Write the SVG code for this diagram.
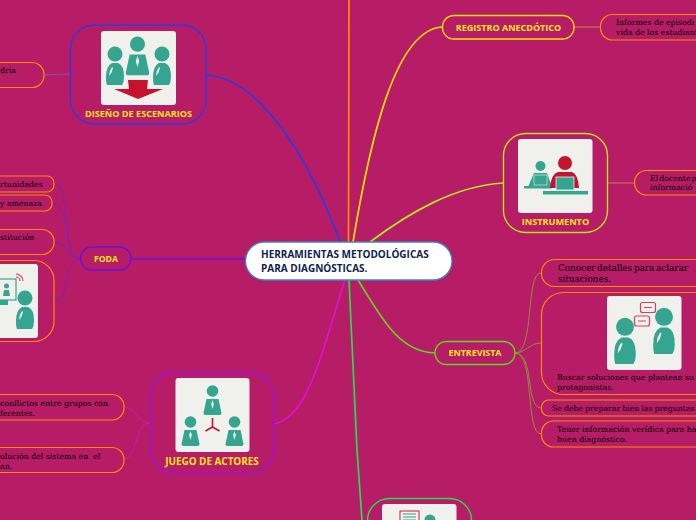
<svg xmlns="http://www.w3.org/2000/svg" width="696" height="520" viewBox="0 0 696 520">
<style>
.n{fill:#b71c66;stroke-width:1.4}
.o{fill:#b71c66;stroke:#ff8c00;stroke-width:1.2}
.t{font:700 9px "Open Sans",sans-serif;fill:#ffe81a;text-anchor:middle}
.b{font:7.800px "DejaVu Serif",serif;fill:#000}
.c{fill:none;stroke-width:1.700}
.s{fill:none;stroke-width:.9}
.img{fill:#f0f0ec}
.tl{fill:#35a58f}
.rd{fill:#c5122f}
.h{font:700 10px "Open Sans",sans-serif;fill:#10234f}
</style>
<defs>
<g id="man"><circle cx="0" cy="-13" r="5.800"/><path d="M-6-5h12l3 14q0 2-2 2h-14q-2 0-2-2z"/><path d="M0-4l1.300 4-1.300 5-1.300-5z" fill="#f0f0ec"/></g>
<g id="guy"><circle cx="0" cy="-16" r="7.500"/><path d="M-3-7q-6 3-6 14 0 6 1 8h15q2-3 2-8 0-12-6-14z"/><path d="M-3-3q-3 4-3 9 3-3 4-8z" fill="#f0f0ec"/></g>
</defs>
<rect width="696" height="520" fill="#b71c66"/>
<g id="connectors">
<path class="c" stroke="#2b3de0" d="M340 242C312 165 262 78 206 75"/>
<path class="c" stroke="#ff8c00" d="M348.500 242C349 160 349 80 349 0"/>
<path class="c" stroke="#ffe000" d="M353 242C370 140 395 30 442 27"/>
<path class="c" stroke="#b5e61d" d="M370 242C410 212 455 186 503 183"/>
<path class="c" stroke="#6a10e0" d="M245 259H131"/>
<path class="c" stroke="#62d61a" d="M358 280C380 315 398 352 435 353"/>
<path class="c" stroke="#e010d0" d="M345 280C325 340 310 418 274 424"/>
<path class="c" stroke="#22e04a" d="M349 280L357 450L362 520"/>
<path class="s" stroke="#8a50c0" d="M45 75Q58 74 70 74"/>
<path class="s" stroke="#7a22c0" d="M54 184C72 184 60 259 80 259M52 203C72 203 62 259 80 259M54 242C66 242 68 259 80 259M54 301C72 301 62 259 80 259"/>
<path class="s" stroke="#c818b8" d="M124 407C136 407 136 423 150 423M124 459C138 459 134 423 150 423"/>
<path class="s" stroke="#d8924a" d="M574 27H600"/>
<path class="s" stroke="#c08a50" d="M608 183H634"/>
<path class="s" stroke="#8a9a3a" d="M515 353C535 353 525 273 541 273M515 353C525 353 530 343 541 343M515 353C535 353 525 408 541 408M515 353C535 353 525 434 541 434"/>
</g>
<g id="center"><rect x="245.500" y="242" width="206.500" height="38" rx="19" fill="#fff" stroke="#3a86c0" stroke-width="1.300"/>
<text class="h" x="261" y="258">HERRAMIENTAS METODOLÓGICAS</text><text class="h" x="261" y="272">PARA DIAGNÓSTICAS.</text></g>
<g id="escenarios"><rect class="n" x="70.500" y="25" width="135.500" height="99" rx="24" stroke="#2b3de0"/>
<rect class="img" x="101" y="31" width="75" height="74" rx="3"/>
<use href="#man" fill="#35a58f" transform="translate(137.500 61) scale(1.300)"/><use href="#guy" fill="#35a58f" x="115" y="70"/><use href="#guy" fill="#35a58f" x="162" y="70"/>
<path class="rd" d="M114 89h15l-1-9h20l-1 9h16l-25 10z"/>
<text class="t" x="138.500" y="117" style="font-size:9.100px">DISEÑO DE ESCENARIOS</text></g>
<g id="escenarios-1"><rect class="o" x="-20" y="62.500" width="64" height="25" rx="12"/><text class="b" x="0" y="73">dria</text></g>
<g id="foda"><rect class="n" x="80.500" y="247" width="50.500" height="23" rx="11.500" stroke="#6a10e0"/><text class="t" x="106" y="262" style="font-size:8.600px">FODA</text></g>
<g id="foda-1"><rect class="o" x="-20" y="176" width="74" height="16" rx="7"/><text class="b" x="0" y="187">rtunidades</text></g>
<g id="foda-2"><rect class="o" x="-20" y="195" width="72" height="16" rx="7"/><text class="b" x="0" y="206">y amenaza</text></g>
<g id="foda-3"><rect class="o" x="-20" y="229.500" width="74" height="25" rx="12"/><text class="b" x="0" y="240">stitución</text></g>
<g id="foda-4"><rect class="o" x="-30" y="260.500" width="84" height="81" rx="20"/><rect class="img" x="-36" y="264" width="74" height="74" rx="3"/>
<rect x="-8" y="279" width="24" height="21" fill="none" stroke="#35a58f" stroke-width="1.200"/><path class="tl" d="M-8 300h16v5h-16z"/><circle class="tl" cx="6.500" cy="286" r="2.500"/><path class="tl" d="M3 296l1-6h5l1 6z"/>
<use href="#guy" fill="#35a58f" x="25" y="314"/>
<path d="M16 274a7 7 0 0 1 7 7M16 277a4 4 0 0 1 4 4" fill="none" stroke="#d6405f" stroke-width="1.200"/></g>
<g id="juego"><rect class="n" x="150.500" y="372.500" width="123.500" height="100.500" rx="24" stroke="#a010e0"/>
<rect class="img" x="175.500" y="378" width="74" height="74" rx="3"/>
<use href="#man" fill="#35a58f" x="212.500" y="404"/><use href="#man" fill="#35a58f" x="190.500" y="435"/><use href="#man" fill="#35a58f" x="234.500" y="435"/>
<path d="M212.500 418v9l-7 4M212.500 427l7 4" fill="none" stroke="#c5122f" stroke-width="1.600"/>
<text class="t" x="212" y="465" style="font-size:9.900px">JUEGO DE ACTORES</text></g>
<g id="juego-1"><rect class="o" x="-20" y="394.500" width="144" height="25.500" rx="12"/><text class="b" x="0" y="406">conflictos entre grupos con</text><text class="b" x="0" y="415.500">ferentes.</text></g>
<g id="juego-2"><rect class="o" x="-20" y="447.500" width="144" height="25" rx="12"/><text class="b" x="0" y="458.500">olución del sistema en&#160; el</text><text class="b" x="0" y="468.500">an.</text></g>
<g id="registro"><rect class="n" x="442.500" y="15.500" width="131.500" height="23.500" rx="11.500" stroke="#ffe000"/><text class="t" x="508.500" y="31">REGISTRO ANECDÓTICO</text></g>
<g id="registro-1"><rect class="o" x="600.500" y="14.500" width="120" height="25.500" rx="12"/><text class="b" x="616" y="25">Informes de episodi</text><text class="b" x="616" y="35">vida de los estudiant</text></g>
<g id="instrumento"><rect class="n" x="503.500" y="133.500" width="104" height="99" rx="22" stroke="#b5e61d"/>
<rect class="img" x="518" y="139" width="74.500" height="74" rx="3"/>
<circle class="tl" cx="540.500" cy="166" r="5"/><path class="tl" d="M534 173h13l5 14h-24z"/><rect class="tl" x="524" y="186" width="28" height="2.500"/>
<circle class="rd" cx="565" cy="163" r="7"/><path class="rd" d="M558 172h14q6 2 7 16h-29q1-14 8-16z"/><rect x="556" y="177" width="18" height="13" fill="#35a58f" stroke="#f0f0ec" stroke-width=".8"/><rect x="534" y="175" width="13" height="10" fill="#35a58f" stroke="#f0f0ec" stroke-width=".6"/><rect class="tl" x="543" y="191" width="45" height="3.500"/>
<text class="t" x="555.500" y="225" style="font-size:9.150px">INSTRUMENTO</text></g>
<g id="instrumento-1"><rect class="o" x="634.500" y="170.500" width="90" height="24.500" rx="12"/><text class="b" x="650" y="181" style="word-spacing:-1.500px">El docente p</text><text class="b" x="650" y="190">informació</text></g>
<g id="entrevista"><rect class="n" x="435" y="341.500" width="80" height="23" rx="11.500" stroke="#62d61a"/><text class="t" x="475" y="356" style="font-size:8.900px">ENTREVISTA</text></g>
<g id="entrevista-1"><rect class="o" x="541.500" y="259.500" width="190" height="27" rx="13"/><text class="b" x="558" y="271" style="font-size:8.800px;word-spacing:-1px">Conocer detalles para aclarar</text><text class="b" x="558" y="282" style="font-size:8.800px">situaciones.</text></g>
<g id="entrevista-2"><rect class="o" x="541.500" y="292.500" width="190" height="102" rx="22"/><rect class="img" x="607" y="296" width="74.500" height="74" rx="3"/>
<use href="#guy" fill="#35a58f" transform="translate(625 346) scale(1.200)"/><use href="#guy" fill="#35a58f" transform="translate(664 336) scale(1.200)"/>
<rect x="640.500" y="302.500" width="15" height="10" rx="2" fill="none" stroke="#d6405f" stroke-width="1.200"/><rect x="634.500" y="316" width="15" height="10" rx="2" fill="none" stroke="#d6405f" stroke-width="1.200"/><path d="M644 307.500h8M638 321h8" stroke="#d6405f" stroke-width="1"/>
<text class="b" x="557" y="380">Buscar soluciones que plantean su</text><text class="b" x="557" y="390">protagonistas.</text></g>
<g id="entrevista-3"><rect class="o" x="541.500" y="400" width="190" height="16" rx="7"/><text class="b" x="552" y="411" style="word-spacing:-.5px">Se debe preparar bien las preguntas</text></g>
<g id="entrevista-4"><rect class="o" x="541.500" y="421" width="190" height="26" rx="12"/><text class="b" x="557" y="432">Tener información verídica para ha</text><text class="b" x="557" y="442">buen diagnóstico.</text></g>
<g id="bottom"><rect class="n" x="367.500" y="498.500" width="104" height="60" rx="22" stroke="#22e04a"/><rect class="img" x="382" y="504" width="74.500" height="40" rx="3"/>
<rect x="400" y="511" width="19" height="12" fill="none" stroke="#d6405f" stroke-width="1.200"/><path d="M403 514h13M403 517h13M403 520h13" stroke="#35a58f"/><circle class="tl" cx="430" cy="520" r="5.500"/></g>
</svg>
